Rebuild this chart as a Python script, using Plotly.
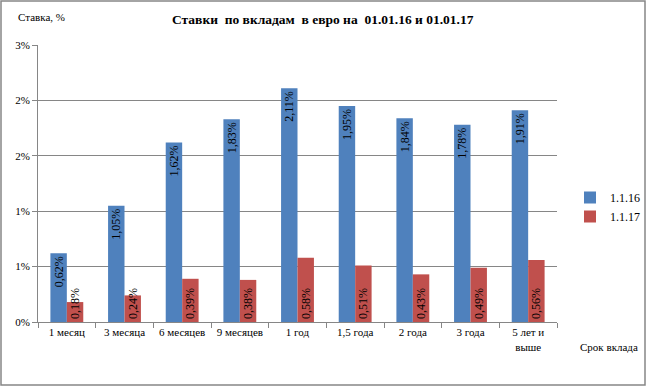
import plotly.graph_objects as go

categories = ["1 месяц", "3 месяца", "6 месяцев", "9 месяцев", "1 год", "1,5 года", "2 года", "3 года", "5 лет и<br>выше"]
series_names = ["1.1.16", "1.1.17"]
values_16 = [0.62, 1.05, 1.62, 1.83, 2.11, 1.95, 1.84, 1.78, 1.91]
values_17 = [0.18, 0.24, 0.39, 0.38, 0.58, 0.51, 0.43, 0.49, 0.56]
ytick_vals = [0, 0.5, 1.0, 1.5, 2.0, 2.5]
ytick_text = ["0%", "1%", "1%", "2%", "2%", "3%"]

def fmt(v):
    return f"{v:.2f}".replace(".", ",") + "%"

FONT = "Liberation Serif, Times New Roman, serif"

# plot area in pixels
PL, PR, PT, PB = 38, 557, 45, 322
PW, PH = PR - PL, PB - PT

def px(x):
    return (x - PL) / PW

def py(y):
    return (PB - y) / PH

fig = go.Figure()
fig.add_trace(go.Bar(
    x=categories, y=values_16, name=series_names[0],
    marker=dict(color="#4F81BD", line=dict(width=0)),
    text=[fmt(v) for v in values_16], textposition="inside",
    insidetextanchor="end", textangle=-90, constraintext="none",
    textfont=dict(family=FONT, size=12, color="black"),
))
fig.add_trace(go.Bar(
    x=categories, y=values_17, name=series_names[1],
    marker=dict(color="#C0504D", line=dict(width=0)),
    text=[fmt(v) for v in values_17], textposition="inside",
    insidetextanchor="start", textangle=-90, constraintext="none",
    textfont=dict(family=FONT, size=12, color="black"),
))

fig.update_layout(
    width=647, height=387,
    margin=dict(l=PL, r=647 - PR, t=PT, b=387 - PB, autoexpand=False),
    paper_bgcolor="white", plot_bgcolor="white",
    font=dict(family=FONT, size=11, color="black"),
    barmode="group", bargap=0.43, bargroupgap=0,
    showlegend=True,
    legend=dict(x=px(570), y=py(207), xanchor="left", yanchor="middle",
                font=dict(family=FONT, size=12), tracegroupgap=0,
                itemwidth=30, bgcolor="rgba(0,0,0,0)"),
    xaxis=dict(type="category", showline=True, linecolor="#868686", linewidth=1,
               ticks="outside", ticklen=5, tickcolor="#868686", tickson="boundaries",
               tickangle=0, automargin=False,
               tickfont=dict(family=FONT, size=11), showgrid=False),
    yaxis=dict(range=[0, 2.5], tickvals=ytick_vals, ticktext=ytick_text,
               showline=True, linecolor="#868686", linewidth=1,
               ticks="outside", ticklen=5, tickcolor="#868686", automargin=False,
               showgrid=True, gridcolor="#868686", gridwidth=1,
               tickfont=dict(family=FONT, size=11), zeroline=False),
    shapes=[dict(type="rect", xref="paper", yref="paper",
                 x0=px(1), x1=px(645), y0=py(385), y1=py(1),
                 line=dict(color="#868686", width=1.5), layer="below")],
    annotations=[
        dict(text="<b>Ставки \u00a0по вкладам \u00a0в евро на \u00a001.01.16 и 01.01.17</b>",
             xref="paper", yref="paper", x=px(323), y=py(19),
             xanchor="center", yanchor="middle", showarrow=False,
             font=dict(family=FONT, size=13.5)),
        dict(text="Ставка, %", xref="paper", yref="paper", x=px(16), y=py(17),
             xanchor="left", yanchor="middle", showarrow=False,
             font=dict(family=FONT, size=11)),
        dict(text="Срок вклада", xref="paper", yref="paper", x=px(578), y=py(347),
             xanchor="left", yanchor="middle", showarrow=False,
             font=dict(family=FONT, size=11)),
    ],
)

fig.write_html("out.html", config={"displayModeBar": False},
               post_script="document.body.style.margin='0';document.body.style.overflow='hidden';")
